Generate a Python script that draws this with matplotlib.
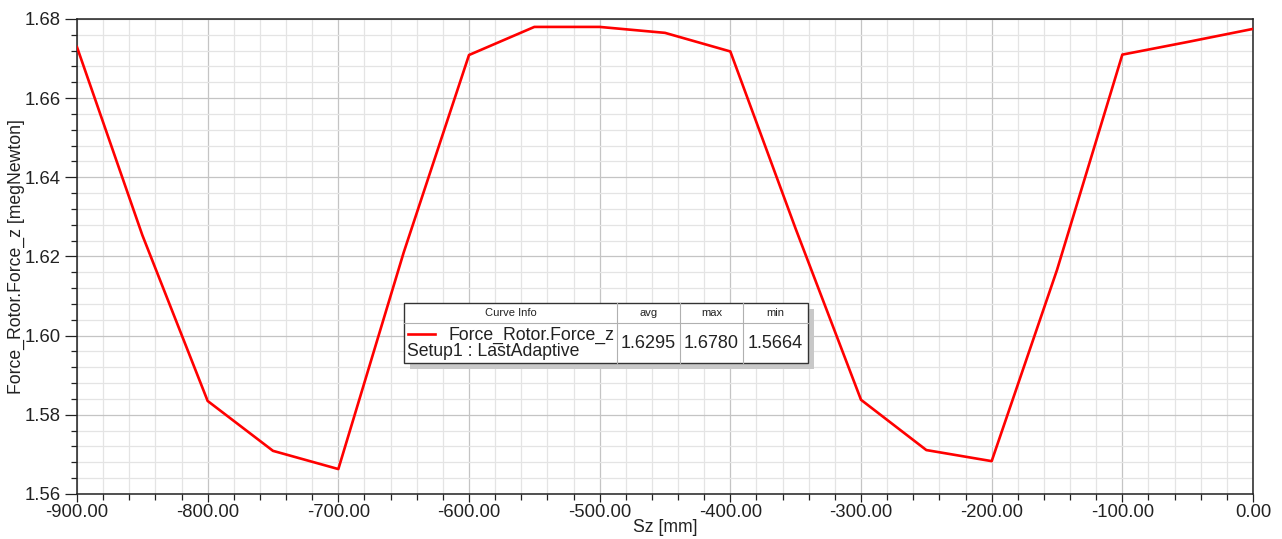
import matplotlib
matplotlib.use("Agg")
import matplotlib.pyplot as plt
from matplotlib.patches import Rectangle
from matplotlib.lines import Line2D
from matplotlib.ticker import MultipleLocator, FormatStrFormatter

plt.rcParams['font.family'] = ['Liberation Sans', 'DejaVu Sans']

# data
sz = [-900, -850, -800, -750, -700, -650, -600, -550, -500, -450,
      -400, -350, -300, -250, -200, -150, -100, -50, 0]
force_z = [1.6729, 1.6254, 1.5835, 1.5709, 1.5663, 1.6210, 1.6709, 1.6780,
           1.6780, 1.6765, 1.6718, 1.6270, 1.5838, 1.5711, 1.5683, 1.6166,
           1.6710, 1.6742, 1.6775]
curve_name = "Force_Rotor.Force_z"
setup_name = "Setup1 : LastAdaptive"
stat_names = ["avg", "max", "min"]
stat_values = ["1.6295", "1.6780", "1.5664"]

W, H = 1282, 539
fig = plt.figure(figsize=(W / 100, H / 100), dpi=100)
ax = fig.add_axes([77 / W, 1 - 494 / H, (1253 - 77) / W, (494 - 19) / H])

ax.plot(sz, force_z, color='#ff0000', linewidth=1.9, zorder=3)

ax.set_xlim(-900, 0)
ax.set_ylim(1.56, 1.68)
ax.xaxis.set_major_locator(MultipleLocator(100))
ax.xaxis.set_minor_locator(MultipleLocator(20))
ax.yaxis.set_major_locator(MultipleLocator(0.02))
ax.yaxis.set_minor_locator(MultipleLocator(0.004))
ax.xaxis.set_major_formatter(FormatStrFormatter('%.2f'))
ax.yaxis.set_major_formatter(FormatStrFormatter('%.2f'))

ax.grid(which='major', color='#c4c4c4', linewidth=0.9)
ax.grid(which='minor', color='#e4e4e4', linewidth=0.9)
ax.set_axisbelow(True)
ax.tick_params(axis='y', which='major', direction='out', length=9, width=0.9,
               labelsize=13.3, colors='#222222', pad=3)
ax.tick_params(axis='x', which='major', direction='out', length=6, width=0.9,
               labelsize=13.3, colors='#222222', pad=1)
ax.tick_params(which='minor', direction='out', length=4.5, width=0.9, color='#222222')
for s in ax.spines.values():
    s.set_color('#222222')
    s.set_linewidth(1.1)

ax.set_xlabel("Sz [mm]", fontsize=12.7, color='#222222', labelpad=-1)
ax.set_ylabel("Force_Rotor.Force_z [megNewton]", fontsize=12.7, color='#222222', labelpad=-0.5)


# legend table, drawn in pixel coords of the figure
def fx(px):
    return px / W


def fy(py):
    return 1 - py / H


x0, x1, y0, y1 = 404, 808, 303, 363
hdr = 323
cols = [404, 617, 680, 743, 808]

fig.patches.append(Rectangle((fx(x0 + 6), fy(y1 + 6)), fx(x1 - x0), (y1 - y0) / H,
                             transform=fig.transFigure, facecolor='#c8c8c8',
                             edgecolor='none', zorder=5))
fig.patches.append(Rectangle((fx(x0), fy(y1)), fx(x1 - x0), (y1 - y0) / H,
                             transform=fig.transFigure, facecolor='white',
                             edgecolor='#333333', linewidth=1.0, zorder=6))
fig.lines.append(Line2D([fx(x0), fx(x1)], [fy(hdr), fy(hdr)], transform=fig.transFigure,
                        color='#b0b0b0', linewidth=0.8, zorder=7))
for c in cols[1:-1]:
    fig.lines.append(Line2D([fx(c), fx(c)], [fy(y0), fy(y1)], transform=fig.transFigure,
                            color='#b0b0b0', linewidth=0.8, zorder=7))

fig.text(fx((cols[0] + cols[1]) / 2), fy((y0 + hdr) / 2), "Curve Info", fontsize=8,
         ha='center', va='center', zorder=8, color='#222222')
for i, (n, v) in enumerate(zip(stat_names, stat_values)):
    cx = (cols[i + 1] + cols[i + 2]) / 2
    fig.text(fx(cx), fy((y0 + hdr) / 2), n, fontsize=8, ha='center', va='center',
             zorder=8, color='#222222')
    fig.text(fx(cx), fy((hdr + y1) / 2), v, fontsize=13, ha='center', va='center',
             zorder=8, color='#222222')

fig.lines.append(Line2D([fx(408), fx(435)], [fy(334), fy(334)], transform=fig.transFigure,
                        color='#ff0000', linewidth=1.9, zorder=8))
fig.text(fx(614), fy(335), curve_name, fontsize=12.7, ha='right', va='center',
         zorder=8, color='#222222')
fig.text(fx(407), fy(352), setup_name, fontsize=12.7, ha='left', va='center',
         zorder=8, color='#222222')

fig.savefig("out.png", dpi=100)
